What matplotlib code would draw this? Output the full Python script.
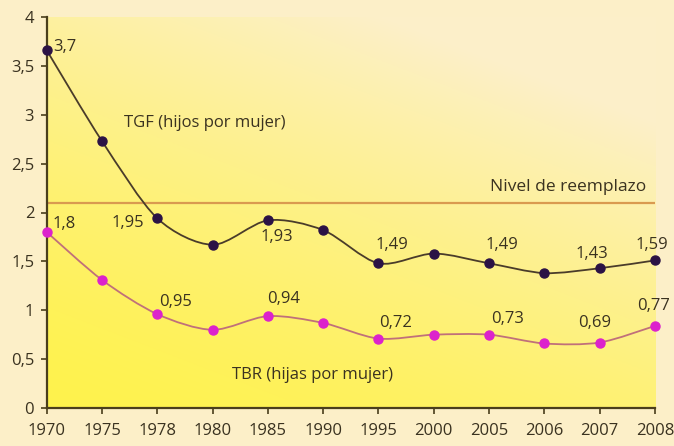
import numpy as np
import matplotlib
matplotlib.use("Agg")
import matplotlib.pyplot as plt
from matplotlib.path import Path
from matplotlib.patches import PathPatch

# data
years = ["1970", "1975", "1978", "1980", "1985", "1990", "1995",
         "2000", "2005", "2006", "2007", "2008"]
tgf = [3.66, 2.73, 1.94, 1.67, 1.92, 1.82, 1.48, 1.58, 1.48, 1.38, 1.43, 1.51]
tbr = [1.80, 1.31, 0.96, 0.80, 0.94, 0.87, 0.71, 0.75, 0.75, 0.66, 0.67, 0.84]
reemplazo = 2.1

# printed value labels (index, text)
tgf_labels = [(0, "3,7"), (2, "1,95"), (4, "1,93"), (6, "1,49"),
              (8, "1,49"), (10, "1,43"), (11, "1,59")]
tbr_labels = [(0, "1,8"), (2, "0,95"), (4, "0,94"), (6, "0,72"),
              (8, "0,73"), (10, "0,69"), (11, "0,77")]

# label offsets in points (dx, dy, ha)
tgf_off = [(5, 2, "left"), (-21, -3, "center"), (6.5, -12, "center"),
           (9.7, 13, "center"), (9.4, 13, "center"), (-5.8, 10, "center"),
           (-2, 11, "center")]
tbr_off = [(4, 6, "left"), (13, 8.6, "center"), (11, 12, "center"),
           (12, 11.5, "center"), (13, 11, "center"), (-4, 14, "center"),
           (-1, 14, "center")]

plt.rcParams["font.family"] = ["Open Sans", "DejaVu Sans"]
txt_col = "#3a3220"
fs = 12

fig = plt.figure(figsize=(6.74, 4.46), dpi=100)
fig.patch.set_facecolor("#fcefc8")
ax = fig.add_axes([46.7 / 674, 38 / 446, (655 - 46.7) / 674, (408 - 17) / 446])
ax.set_facecolor("#fcefc8")

# background gradient, yellow at bottom-left fading to cream
gx, gy = np.meshgrid(np.linspace(0, 1, 200), np.linspace(0, 1, 200))
t = np.clip(0.45 * gx + 0.75 * gy, 0, 1) ** 1.4
c0 = np.array([1.0, 0.95, 0.30])
c1 = np.array([0.99, 0.94, 0.79])
img = c0 + (c1 - c0) * t[..., None]
ax.imshow(img, extent=[0, 1, 0, 1], transform=ax.transAxes, origin="lower",
          aspect="auto", zorder=0)

x = np.arange(len(years))


def smooth_path(xs, ys):
    # Catmull-Rom through the points, drawn as cubic Bezier segments
    pts = np.column_stack([xs, ys]).astype(float)
    verts = [pts[0]]
    codes = [Path.MOVETO]
    n = len(pts)
    for i in range(n - 1):
        p0 = pts[max(i - 1, 0)]
        p1 = pts[i]
        p2 = pts[i + 1]
        p3 = pts[min(i + 2, n - 1)]
        verts += [p1 + (p2 - p0) / 7, p2 - (p3 - p1) / 7, p2]
        codes += [Path.CURVE4] * 3
    return Path(verts, codes)


ax.add_patch(PathPatch(smooth_path(x, tgf), fill=False, edgecolor="#4a3c2a",
                       lw=1.3, zorder=3, clip_on=False))
ax.add_patch(PathPatch(smooth_path(x, tbr), fill=False, edgecolor="#c0707a",
                       lw=1.3, zorder=3, clip_on=False))
ax.plot(x, tgf, "o", color="#2b1245", ms=6.5, zorder=4, clip_on=False)
ax.plot(x, tbr, "o", color="#dc22cc", ms=6.5, zorder=4, clip_on=False)

ax.axhline(reemplazo, color="#d99a50", lw=1.6, zorder=2)
ax.text(11 - 0.16, reemplazo + 0.08, "Nivel de reemplazo", ha="right",
        va="bottom", fontsize=fs + 0.5, color=txt_col)
ax.text(1.4, 2.92, "TGF (hijos por mujer)", ha="left", va="center",
        fontsize=fs, color=txt_col)
ax.text(3.35, 0.34, "TBR (hijas por mujer)", ha="left", va="center",
        fontsize=fs, color=txt_col)

for (i, s), (dx, dy, ha) in zip(tgf_labels, tgf_off):
    ax.annotate(s, (x[i], tgf[i]), xytext=(dx, dy), textcoords="offset points",
                ha=ha, va="center", fontsize=fs, color=txt_col, zorder=5)
for (i, s), (dx, dy, ha) in zip(tbr_labels, tbr_off):
    ax.annotate(s, (x[i], tbr[i]), xytext=(dx, dy), textcoords="offset points",
                ha=ha, va="center", fontsize=fs, color=txt_col, zorder=5)

ax.set_xlim(0, 11)
ax.set_ylim(0, 4)
ax.set_xticks(x)
ax.set_xticklabels(years)
ax.set_yticks([0, 0.5, 1, 1.5, 2, 2.5, 3, 3.5, 4])
ax.set_yticklabels(["0", "0,5", "1", "1,5", "2", "2,5", "3", "3,5", "4"])
for s in ["top", "right"]:
    ax.spines[s].set_visible(False)
for s in ["left", "bottom"]:
    ax.spines[s].set_color("#4a3e1c")
    ax.spines[s].set_linewidth(1.6)
ax.tick_params(colors="#4a3e1c", labelcolor=txt_col, labelsize=12,
               length=4, width=1.2)
ax.tick_params(axis="x", pad=7)
ax.tick_params(axis="y", pad=5)

fig.savefig("out.png", dpi=100, facecolor=fig.get_facecolor())
